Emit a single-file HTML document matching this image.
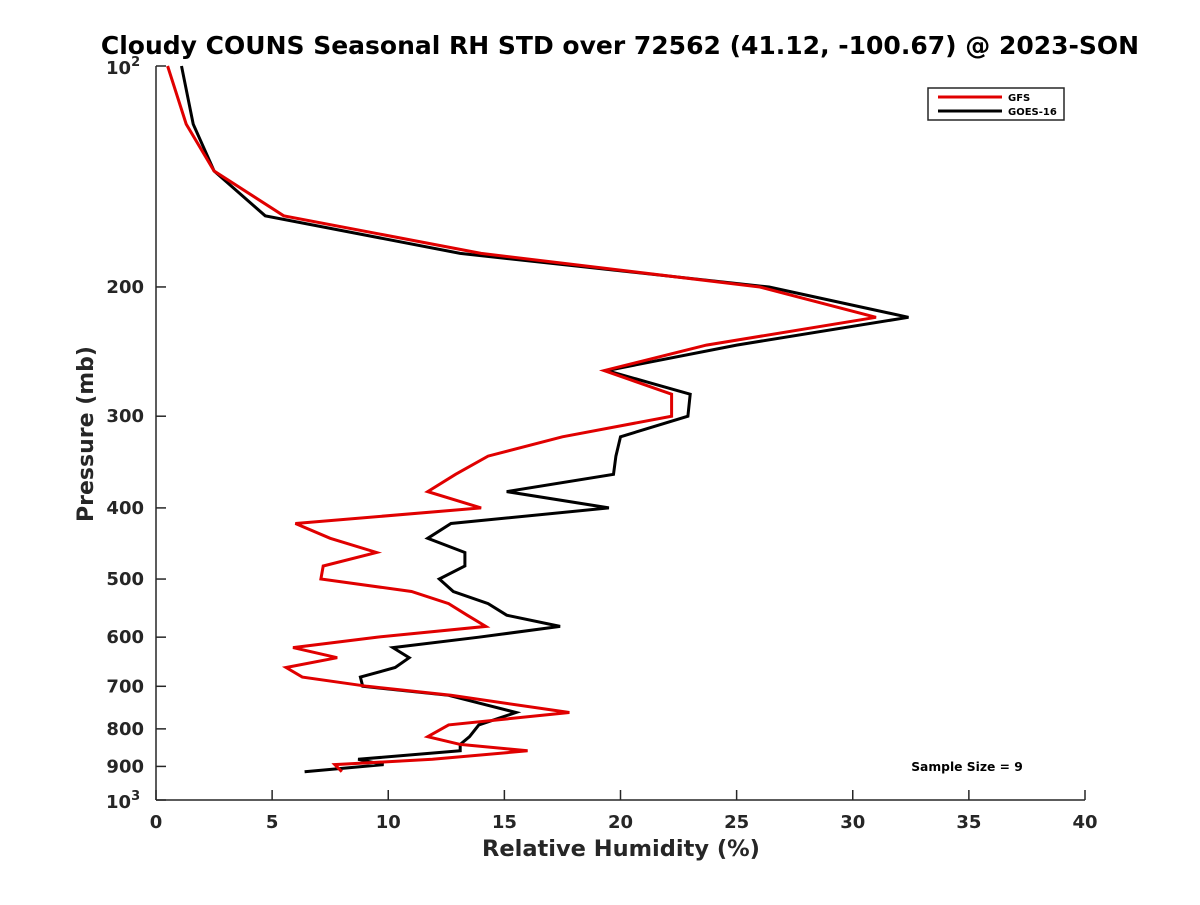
<!DOCTYPE html>
<html><head><meta charset="utf-8"><style>
body{margin:0;background:#fff;}
svg text{font-family:"DejaVu Sans","Liberation Sans",sans-serif;font-weight:bold;fill:#262626;}
</style></head><body>
<svg id="chart" width="1200" height="900" xmlns="http://www.w3.org/2000/svg">
<rect width="1200" height="900" fill="#fff"/>
<text x="620" y="54" text-anchor="middle" font-size="25" style="fill:#000">Cloudy COUNS Seasonal RH STD over 72562 (41.12, -100.67) @ 2023-SON</text>
<g id="axes"></g>
<g id="series"></g>
<text x="621" y="856" text-anchor="middle" font-size="22.5">Relative Humidity (%)</text>
<text transform="translate(93,434) rotate(-90)" text-anchor="middle" font-size="22">Pressure (mb)</text>
<g>
<rect x="928" y="88" width="136" height="32" fill="#fff" stroke="#262626" stroke-width="1.5"/>
<line x1="938" y1="97" x2="1002" y2="97" stroke="#e00000" stroke-width="3"/>
<text x="1008" y="101" font-size="10" style="fill:#000">GFS</text>
<line x1="938" y1="111" x2="1002" y2="111" stroke="#000" stroke-width="3"/>
<text x="1008" y="115" font-size="10" style="fill:#000">GOES-16</text>
</g>
<text x="967" y="771" text-anchor="middle" font-size="12.3" style="fill:#000">Sample Size = 9</text>
</svg>
<script>
const pressures=[100,120,139,160,180,200,220,240,260,280,300,320,340,360,380,400,420,440,460,480,500,520,540,560,580,600,620,640,660,680,700,720,760,790,820,840,857,880,895,915];
const gfsValues=[0.5,1.3,2.5,5.5,14,26,31,23.7,19.3,22.2,22.2,17.5,14.3,12.9,11.7,14,6,7.5,9.5,7.2,7.1,11,12.6,13.4,14.2,9.5,5.9,7.8,5.6,6.3,9.1,12.7,17.8,12.6,11.7,13.1,16,11.9,7.7,8];
const goesValues=[1.1,1.6,2.5,4.7,13.1,26.4,32.4,25,19.4,23,22.9,20,19.8,19.7,15.1,19.5,12.7,11.7,13.3,13.3,12.2,12.8,14.3,15.1,17.4,13.9,10.2,10.9,10.3,8.8,8.9,12.6,15.5,13.9,13.5,13.1,13.1,8.7,9.8,6.4];
const xTicks=[0,5,10,15,20,25,30,35,40];
const yTicks=[200,300,400,500,600,700,800,900];
const X0=156,X1=1085,Y0=66,Y1=800;
const xs=v=>X0+(v-0)/40*(X1-X0);
const ys=p=>Y0+(Math.log10(p)-2)*(Y1-Y0);
const NS="http://www.w3.org/2000/svg";
const ax=document.getElementById('axes'),se=document.getElementById('series');
function mk(tag,attrs,parent){const e=document.createElementNS(NS,tag);for(const k in attrs)e.setAttribute(k,attrs[k]);parent.appendChild(e);return e;}
let l=mk('line',{x1:X0,y1:Y0,x2:X0,y2:Y1,stroke:'#262626','stroke-width':1.5},ax);


l=mk('line',{x1:X0,y1:Y1,x2:X1,y2:Y1,stroke:'#262626','stroke-width':1.5},ax);


xTicks.forEach(v=>{
 const t=mk('line',{x1:xs(v),y1:Y1,x2:xs(v),y2:Y1-10,stroke:'#262626','stroke-width':1.5},ax);
 
 
 const tx=mk('text',{x:xs(v),y:Y1+28,'text-anchor':'middle','font-size':18},ax);
 tx.textContent=v;
 
 
});
[100,1000].concat(yTicks).forEach(p=>{
 const t=mk('line',{x1:X0,y1:ys(p),x2:X0+10,y2:ys(p),stroke:'#262626','stroke-width':1.5},ax);
 
 
});
yTicks.forEach(p=>{
 const tx=mk('text',{x:X0-12,y:ys(p)+6,'text-anchor':'end','font-size':18},ax);
 tx.textContent=p;
 
 
});
[[100,'2'],[1000,'3']].forEach(([p,e])=>{
 const tx=mk('text',{x:X0-50,y:ys(p)+8,'font-size':18},ax);
 tx.innerHTML='10<tspan dy="-8" font-size="13">'+e+'</tspan>';
 
 
});
function line(vals,color,name){
 const pts=vals.map((v,i)=>xs(v).toFixed(1)+','+ys(pressures[i]).toFixed(1)).join(' ');
 const pl=mk('polyline',{points:pts,fill:'none',stroke:color,'stroke-width':3,'stroke-linejoin':'miter'},se);
 
 
}
line(goesValues,'#000','goes16-line');
line(gfsValues,'#e00000','gfs-line');
</script>
</body></html>
